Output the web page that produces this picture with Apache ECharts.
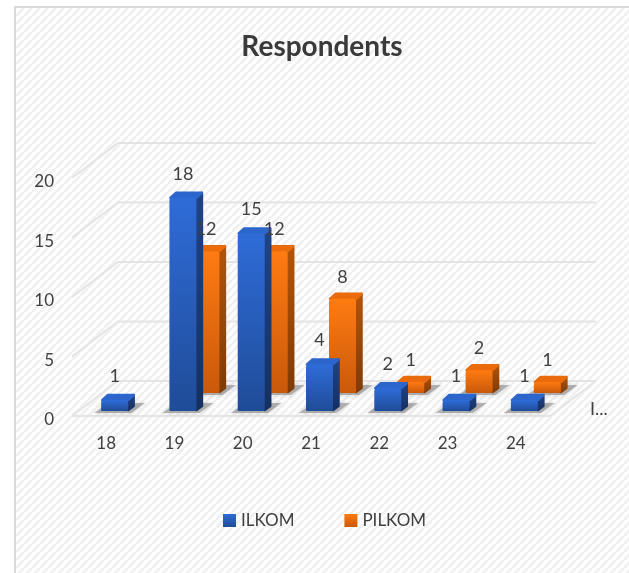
<!DOCTYPE html>
<html>
<head>
<meta charset="utf-8">
<title>Respondents</title>
<style>
  html, body { margin: 0; padding: 0; background: #fff; }
  #chart { width: 629px; height: 573px; }
</style>
<script src="https://cdn.jsdelivr.net/npm/echarts@6/dist/echarts.min.js"></script>
</head>
<body>
<div id="chart"></div>
<script>
const ages = ["18", "19", "20", "21", "22", "23", "24"];
const ilkom = [1, 18, 15, 4, 2, 1, 1];
const pilkom = [null, 12, 12, 8, 1, 2, 1];
const yTicks = [0, 5, 10, 15, 20];

const FONT = "Lato";
const TEXT = "#404040";
const GRID_LINE = "#e4e4e4";

// pseudo 3D: how far the back wall sits from the front of the floor
const DEPTH_X = 46;
const DEPTH_Y = -35;

const blue = {
  face: ["#2f6cd8", "#1f4c98"],
  side: ["#1f4488", "#162f60"],
  top: "#2c66cc",
};
const orange = {
  face: ["#ff7b12", "#c9590a"],
  side: ["#b55408", "#7f3a05"],
  top: "#ea6b0c",
};

function vGrad(c) {
  return {
    type: "linear", x: 0, y: 0, x2: 0, y2: 1,
    colorStops: [{ offset: 0, color: c[0] }, { offset: 1, color: c[1] }],
  };
}

// diagonal hatch of the chart area
function hatchCanvas() {
  const size = 8;
  const cv = document.createElement("canvas");
  cv.width = size;
  cv.height = size;
  const ctx = cv.getContext("2d");
  ctx.fillStyle = "#ffffff";
  ctx.fillRect(0, 0, size, size);
  ctx.strokeStyle = "#f0f0f0";
  ctx.lineWidth = 2.8;
  for (let i = -size; i <= size * 2; i += size) {
    ctx.beginPath();
    ctx.moveTo(i, size);
    ctx.lineTo(i + size, 0);
    ctx.stroke();
  }
  return cv;
}

function renderWalls(params, api) {
  const grid = params.coordSys;
  const y = api.coord([0, api.value(1)])[1];
  const left = grid.x;
  const right = grid.x + grid.width;
  const line = (x1, y1, x2, y2) => ({
    type: "line",
    shape: { x1, y1, x2, y2 },
    style: { stroke: GRID_LINE, lineWidth: 2, fill: null },
  });
  const children = [
    line(left, y, left + DEPTH_X, y + DEPTH_Y),
    line(left + DEPTH_X, y + DEPTH_Y, right + DEPTH_X, y + DEPTH_Y),
  ];
  if (api.value(1) === 0) {
    children.push(line(left, y, right, y));
    children.push(line(right, y, right + DEPTH_X, y + DEPTH_Y));
  }
  return { type: "group", children };
}

// one bar: floor shadow, front face, side and top
function barRenderer(colors, shiftX, shiftY) {
  return function (params, api) {
    const value = api.value(1);
    if (isNaN(value)) return;
    const base = api.coord([api.value(0), 0]);
    const h = api.size([0, value])[1];
    const x = base[0] + shiftX;
    const y = base[1] + shiftY;
    const w = 27;
    const dx = 6.5;
    const dy = -6;
    const top = y - h + 1;
    const joined = (fill) => ({ fill, stroke: fill, lineWidth: 2.5, lineJoin: "round" });
    return {
      type: "group",
      children: [
        {
          type: "polygon",
          shape: { points: [[x - 7, y + 2], [x + w + 3, y + 2], [x + w + 17, y - 8], [x + 7, y - 8]] },
          style: { fill: "rgba(120,120,120,0.5)", shadowBlur: 5, shadowColor: "rgba(120,120,120,0.6)" },
        },
        {
          type: "polygon",
          shape: { points: [[x + w, top], [x + w + dx - 1, top + dy + 1], [x + w + dx - 1, y + dy + 1], [x + w, y - 1]] },
          style: joined(vGrad(colors.side)),
        },
        {
          type: "polygon",
          shape: { points: [[x + 1, top], [x + dx, top + dy + 1], [x + w + dx - 1, top + dy + 1], [x + w, top]] },
          style: joined(colors.top),
        },
        {
          type: "rect",
          shape: { x, y: top, width: w, height: y - top, r: [3, 3, 1, 1] },
          style: { fill: vGrad(colors.face) },
        },
      ],
    };
  };
}

function labelRenderer(shiftX, shiftY) {
  return function (params, api) {
    const value = api.value(1);
    if (isNaN(value)) return;
    const p = api.coord([api.value(0), value]);
    return {
      type: "text",
      style: {
        x: p[0] + shiftX + 13.5,
        y: p[1] + shiftY - 23,
        text: String(value),
        fill: TEXT,
        font: "18px " + FONT,
        textAlign: "center",
        textVerticalAlign: "middle",
      },
    };
  };
}

const toPairs = (values) => values.map((v, i) => [i, v]);

const BLUE_SHIFT = [-5, -5];
const ORANGE_SHIFT = [18, -23];

const chart = echarts.init(document.getElementById("chart"));
chart.setOption({
  animation: false,
  backgroundColor: "#ffffff",
  textStyle: { fontFamily: FONT },
  title: {
    text: "Respondents",
    left: 317,
    top: 28,
    textAlign: "center",
    textStyle: { color: "#3a3a3a", fontSize: 28, fontWeight: "bold", fontFamily: FONT },
  },
  grid: { left: 72, top: 178, width: 478, height: 238 },
  graphic: [
    {
      type: "rect",
      z: -1,
      // runs past the right and bottom of the page, only left and top border show
      shape: { x: 15, y: 7, width: 640, height: 590 },
      style: { fill: { image: hatchCanvas(), repeat: "repeat" }, stroke: "#d9d9d9", lineWidth: 2 },
    },
    {
      type: "text",
      z: 10,
      style: { x: 590, y: 409, text: "I...", fill: TEXT, font: "18px " + FONT, textVerticalAlign: "middle" },
    },
  ],
  legend: {
    left: 218,
    top: 507,
    itemWidth: 13,
    itemHeight: 13,
    itemGap: 50,
    icon: "rect",
    textStyle: { color: TEXT, fontSize: 17, fontFamily: FONT },
    data: [
      { name: "ILKOM", itemStyle: { color: vGrad(blue.face) } },
      { name: "PILKOM", itemStyle: { color: vGrad(orange.face) } },
    ],
  },
  xAxis: {
    type: "category",
    data: ages,
    axisLine: { show: false },
    axisTick: { show: false },
    axisLabel: { color: TEXT, fontSize: 17, margin: 19, fontFamily: FONT },
  },
  yAxis: {
    type: "value",
    min: 0,
    max: 20,
    interval: 5,
    axisLine: { show: false },
    axisTick: { show: false },
    splitLine: { show: false },
    axisLabel: { color: TEXT, fontSize: 17, margin: 18, verticalAlign: "top", lineHeight: 8, fontFamily: FONT },
  },
  series: [
    { name: "walls", type: "custom", z: 1, silent: true, clip: false, data: yTicks.map((v) => [0, v]), renderItem: renderWalls },
    { name: "PILKOM", type: "custom", z: 2, data: toPairs(pilkom), itemStyle: { color: orange.face[0] }, renderItem: barRenderer(orange, ORANGE_SHIFT[0], ORANGE_SHIFT[1]) },
    { name: "ILKOM", type: "custom", z: 3, data: toPairs(ilkom), itemStyle: { color: blue.face[0] }, renderItem: barRenderer(blue, BLUE_SHIFT[0], BLUE_SHIFT[1]) },
    { name: "PILKOM", type: "custom", z: 4, data: toPairs(pilkom), renderItem: labelRenderer(ORANGE_SHIFT[0], ORANGE_SHIFT[1] + 2) },
    { name: "ILKOM", type: "custom", z: 4, data: toPairs(ilkom), renderItem: labelRenderer(BLUE_SHIFT[0], BLUE_SHIFT[1]) },
  ],
});
</script>
</body>
</html>
